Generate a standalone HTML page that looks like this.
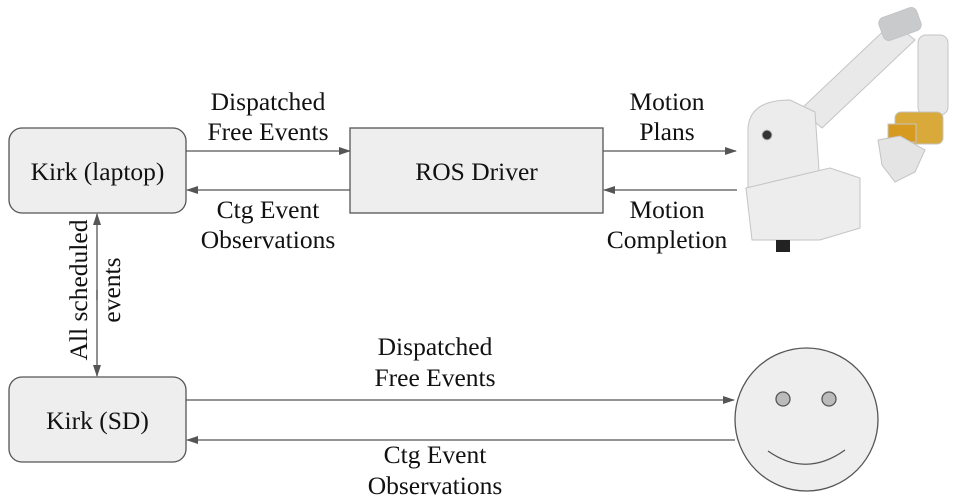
<!DOCTYPE html>
<html><head><meta charset="utf-8"><style>body{margin:0;background:#fff}svg{display:block}text{font-family:"Liberation Serif","DejaVu Serif",serif;font-size:25.5px;fill:#111}</style></head><body>
<svg width="972" height="500" viewBox="0 0 972 500" xmlns="http://www.w3.org/2000/svg">
<defs><marker id="a" markerWidth="12" markerHeight="8" refX="11" refY="4" orient="auto" markerUnits="userSpaceOnUse"><path d="M0,0 L12,4 L0,8 Z" fill="#555"/></marker></defs>
<g stroke="#555" stroke-width="1.3" fill="#eeeeee">
<rect x="9" y="128" width="177" height="85" rx="13"/>
<rect x="350" y="128" width="253" height="85"/>
<rect x="9" y="377" width="177" height="85" rx="13"/>
<circle cx="806.5" cy="419.5" r="71.5"/>
<circle cx="783" cy="399" r="7" fill="#bbb"/>
<circle cx="829" cy="399" r="7" fill="#bbb"/>
<path d="M768,451 Q806,478 845,450" fill="none"/>
</g>
<g stroke="#555" stroke-width="1.3" fill="none" marker-end="url(#a)">
<line x1="186" y1="151" x2="350" y2="151"/>
<line x1="350" y1="190" x2="187" y2="190"/>
<line x1="603" y1="151" x2="736" y2="151"/>
<line x1="737" y1="190" x2="604" y2="190"/>
<line x1="186" y1="400" x2="734" y2="400"/>
<line x1="735" y1="440" x2="187" y2="440"/>
<line x1="97" y1="300" x2="97" y2="214"/>
<line x1="97" y1="290" x2="97" y2="376"/>
</g>
<g text-anchor="middle" font-family="Liberation Serif, DejaVu Serif, serif" font-size="25.5">
<text x="97.5" y="180">Kirk (laptop)</text>
<text x="476.5" y="180">ROS Driver</text>
<text x="97.5" y="429">Kirk (SD)</text>
<text x="268" y="110">Dispatched</text><text x="268" y="140">Free Events</text>
<text x="268" y="218">Ctg Event</text><text x="268" y="248">Observations</text>
<text x="667" y="110">Motion</text><text x="667" y="140">Plans</text>
<text x="667" y="218">Motion</text><text x="667" y="248">Completion</text>
<text x="435" y="355">Dispatched</text><text x="435" y="386">Free Events</text>
<text x="435" y="463">Ctg Event</text><text x="435" y="494">Observations</text>
<text transform="translate(87,290) rotate(-90)">All scheduled</text>
<text transform="translate(120,290) rotate(-90)">events</text>
</g>
<g stroke="#c4c4c4" stroke-width="1">
<path d="M800,110 L893,22 L915,40 L822,128 Z" fill="#e9e9e9"/>
<rect x="880" y="12" width="40" height="24" rx="6" fill="#c8cacc" transform="rotate(-20 900 24)"/>
<rect x="918" y="35" width="30" height="80" rx="8" fill="#e8e8e8"/>
<rect x="895" y="112" width="48" height="32" rx="6" fill="#d9a93a"/>
<rect x="888" y="124" width="28" height="18" fill="#d69a20"/>
<path d="M878,140 L900,136 L925,150 L915,172 L895,182 L882,165 Z" fill="#e4e4e4"/>
<path d="M748,128 Q750,100 790,100 L815,112 L820,185 L748,192 Z" fill="#ececec"/>
<path d="M746,188 L830,168 L860,178 L860,228 L820,240 L752,240 Z" fill="#ededed"/>
<circle cx="767" cy="135" r="5" fill="#333"/>
<rect x="776" y="240" width="14" height="12" fill="#222" stroke="none"/>
</g>
</svg>
</body></html>
